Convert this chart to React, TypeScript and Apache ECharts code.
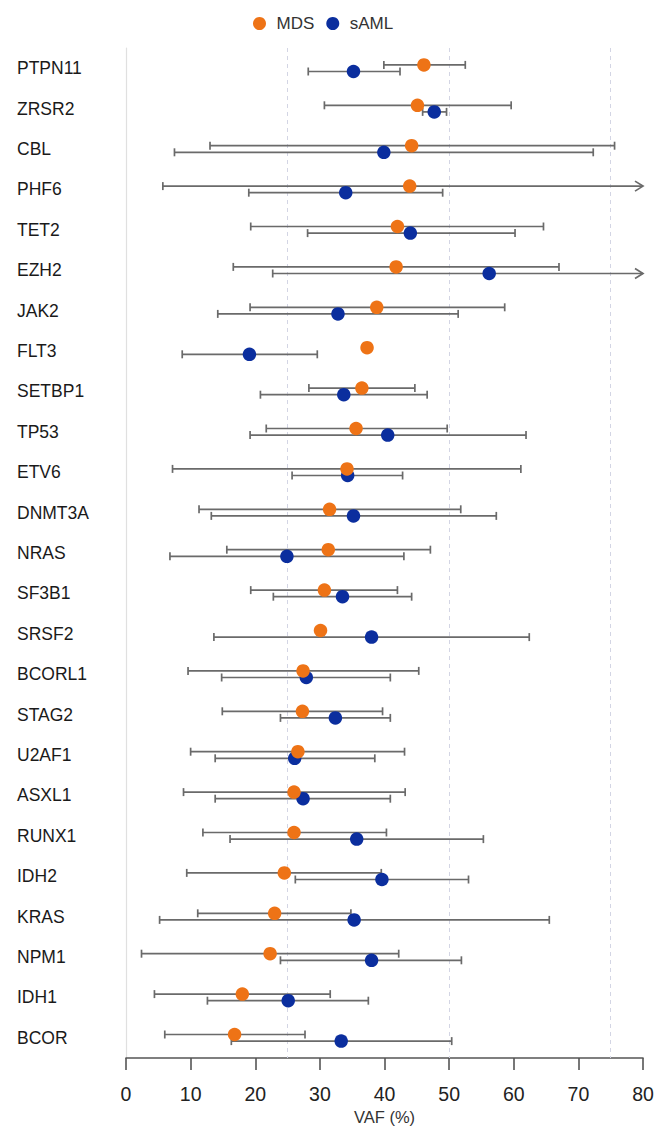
import React, { useEffect, useRef } from "react";
import * as echarts from "echarts";

// Genes, top to bottom
const genes = [
  "PTPN11", "ZRSR2", "CBL", "PHF6", "TET2", "EZH2", "JAK2", "FLT3", "SETBP1",
  "TP53", "ETV6", "DNMT3A", "NRAS", "SF3B1", "SRSF2", "BCORL1", "STAG2",
  "U2AF1", "ASXL1", "RUNX1", "IDH2", "KRAS", "NPM1", "IDH1", "BCOR",
];

// Median VAF (%) per gene
const mdsVaf = [
  46.1, 45.1, 44.2, 43.9, 42.0, 41.8, 38.8, 37.3, 36.5,
  35.6, 34.2, 31.5, 31.3, 30.7, 30.1, 27.4, 27.3,
  26.6, 26.0, 26.0, 24.5, 23.0, 22.3, 18.0, 16.8,
];
const samlVaf = [
  35.2, 47.7, 39.9, 34.0, 44.0, 56.2, 32.8, 19.1, 33.7,
  40.5, 34.3, 35.2, 24.9, 33.5, 38.0, 27.9, 32.4,
  26.1, 27.4, 35.7, 39.6, 35.3, 38.0, 25.1, 33.3,
];

// Interval bounds (null = no interval); values above 80 run past the axis
const mdsLow = [
  39.9, 30.7, 13.0, 5.7, 19.3, 16.6, 19.2, null, 28.3,
  21.7, 7.2, 11.3, 15.6, 19.3, null, 9.6, 14.9,
  10.0, 8.9, 11.9, 9.4, 11.1, 2.4, 4.4, 6.0,
];
const mdsHigh = [
  52.5, 59.6, 75.6, 85, 64.6, 67.0, 58.6, null, 44.7,
  49.7, 61.1, 51.8, 47.1, 42.0, null, 45.3, 39.7,
  43.1, 43.2, 40.3, 39.5, 34.8, 42.2, 31.6, 27.7,
];
const samlLow = [
  28.2, 45.9, 7.5, 19.0, 28.1, 22.7, 14.2, 8.7, 20.8,
  19.2, 25.7, 13.2, 6.8, 22.8, 13.6, 14.8, 23.9,
  13.8, 13.8, 16.1, 26.2, 5.2, 23.9, 12.6, 16.3,
];
const samlHigh = [
  42.4, 49.6, 72.3, 49.0, 60.2, 85, 51.4, 29.6, 46.6,
  61.9, 42.8, 57.3, 43.0, 44.2, 62.4, 40.9, 40.9,
  38.5, 40.9, 55.3, 53.0, 65.5, 51.9, 37.5, 50.4,
];

const xTicks = [0, 10, 20, 30, 40, 50, 60, 70, 80];
const refLines = [25, 50, 75];

const ORANGE = "#EE7316";
const BLUE = "#0B2E9E";
const BAR = "#6a6a6a";
const FONT = "'Liberation Sans', Arial, Helvetica, sans-serif";
const X_MAX = 80;
const ROW_SHIFT = 3.3;

function intervalData(low: (number | null)[], high: (number | null)[]) {
  const out: number[][] = [];
  low.forEach((lo, i) => {
    const hi = high[i];
    if (lo != null && hi != null) out.push([lo, i, hi]);
  });
  return out;
}

function makeRenderer(shift: number) {
  return (params: any, api: any) => {
    const lo = api.value(0);
    const cat = api.value(1);
    const hi = api.value(2);
    const y = api.coord([0, cat])[1] + shift;
    const x1 = api.coord([lo, cat])[0];
    const over = hi > X_MAX;
    const x2 = api.coord([over ? X_MAX : hi, cat])[0];
    const style = { stroke: BAR, lineWidth: 1.7, fill: "none" };
    const children: any[] = [
      { type: "line", shape: { x1, y1: y, x2, y2: y }, style },
      { type: "line", shape: { x1, y1: y - 4, x2: x1, y2: y + 4 }, style },
    ];
    if (over) {
      children.push({
        type: "polyline",
        shape: { points: [[x2 - 8, y - 5], [x2, y], [x2 - 8, y + 5]] },
        style,
      });
    } else {
      children.push({ type: "line", shape: { x1: x2, y1: y - 4, x2, y2: y + 4 }, style });
    }
    return { type: "group", children };
  };
}

export default function App() {
  const ref = useRef<HTMLDivElement>(null);

  useEffect(() => {
    if (!ref.current) return;
    const chart = echarts.init(ref.current, null, { renderer: "svg" });
    chart.setOption({
      animation: false,
      backgroundColor: "#ffffff",
      textStyle: { fontFamily: FONT },
      legend: {
        data: ["MDS", "sAML"],
        left: 248,
        top: 10,
        icon: "circle",
        itemWidth: 24,
        itemHeight: 13,
        itemGap: 12,
        textStyle: { fontSize: 17, color: "#333", fontFamily: FONT },
      },
      grid: { left: 126, right: 28, top: 48, bottom: 73, containLabel: false },
      xAxis: {
        type: "value",
        min: xTicks[0],
        max: xTicks[xTicks.length - 1],
        interval: 10,
        name: "VAF (%)",
        nameLocation: "middle",
        nameGap: 49,
        nameTextStyle: { fontSize: 16.5, color: "#333", fontFamily: FONT },
        axisLine: { show: true, lineStyle: { color: "#555", width: 1.6 } },
        axisTick: { show: true, length: 12, lineStyle: { color: "#555", width: 1.6 } },
        axisLabel: { fontSize: 19.5, color: "#222", margin: 26, fontFamily: FONT },
        splitLine: { show: false },
      },
      yAxis: {
        type: "category",
        data: genes,
        inverse: true,
        boundaryGap: true,
        axisLine: { show: true, lineStyle: { color: "#e0e0e0", width: 1.2 } },
        axisTick: { show: false },
        axisLabel: {
          align: "left",
          margin: 109,
          fontSize: 17.5,
          color: "#1a1a1a",
          fontFamily: FONT,
        },
        splitLine: { show: false },
      },
      series: [
        {
          name: "sAML interval",
          type: "custom",
          renderItem: makeRenderer(ROW_SHIFT),
          encode: { x: [0, 2], y: 1 },
          data: intervalData(samlLow, samlHigh),
          z: 2,
          silent: true,
        },
        {
          name: "MDS interval",
          type: "custom",
          renderItem: makeRenderer(-ROW_SHIFT),
          encode: { x: [0, 2], y: 1 },
          data: intervalData(mdsLow, mdsHigh),
          z: 2,
          silent: true,
        },
        {
          name: "sAML",
          type: "scatter",
          symbol: "circle",
          symbolSize: 13.5,
          symbolOffset: [0, ROW_SHIFT],
          itemStyle: { color: BLUE, opacity: 1 },
          data: samlVaf.map((v, i) => [v, i]),
          z: 3,
        },
        {
          name: "MDS",
          type: "scatter",
          symbol: "circle",
          symbolSize: 13.5,
          symbolOffset: [0, -ROW_SHIFT],
          itemStyle: { color: ORANGE, opacity: 1 },
          data: mdsVaf.map((v, i) => [v, i]),
          z: 4,
          markLine: {
            silent: true,
            symbol: "none",
            label: { show: false },
            lineStyle: { type: [4, 4], color: "#d3d5e4", width: 1 },
            data: refLines.map((x) => ({ xAxis: x })),
            z: 1,
          },
        },
      ],
    });
    return () => chart.dispose();
  }, []);

  return (
    <div
      ref={ref}
      style={{ position: "absolute", left: 0, top: 0, width: 671, height: 1131 }}
    />
  );
}
